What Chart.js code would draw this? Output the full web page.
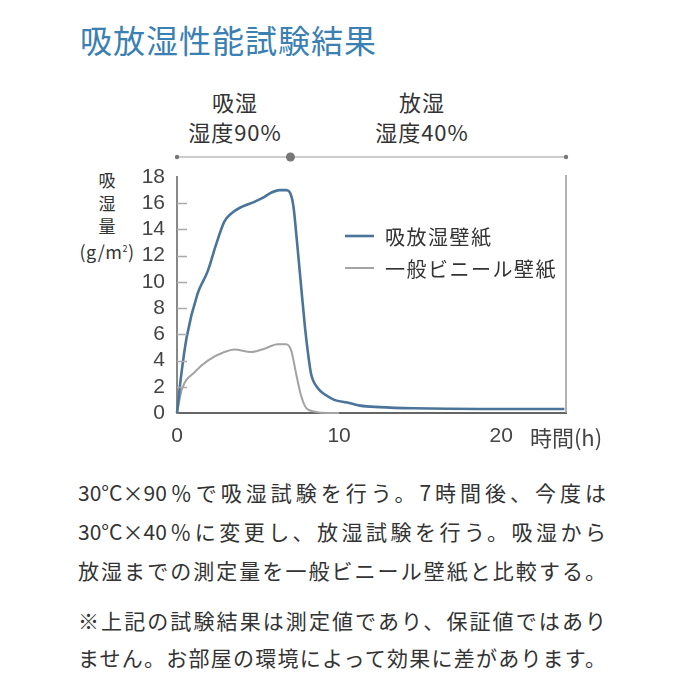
<!DOCTYPE html>
<html><head><meta charset="utf-8">
<script src="https://cdn.jsdelivr.net/npm/chart.js@4"></script>
<style>
html,body{margin:0;padding:0;background:#fff;}
body{width:700px;height:700px;position:relative;overflow:hidden;font-family:"Noto Sans CJK JP","Noto Sans",sans-serif;color:#333;}
.abs{position:absolute;white-space:nowrap;}
#title{left:80px;top:17px;font-size:32px;line-height:44px;color:#3a80b3;letter-spacing:1px;}
.hdr{font-size:22px;text-align:center;width:170px;line-height:30px;letter-spacing:1px;}
.j{position:absolute;left:78px;width:528px;text-align:justify;text-align-last:justify;font-size:21px;line-height:26px;white-space:nowrap;color:#333;}
#ytitle{left:76px;top:168px;width:62px;text-align:center;font-size:17px;line-height:23px;color:#333;}
#ytitle .u{font-size:18px;letter-spacing:0.5px;}
#chartwrap{position:absolute;left:0;top:140px;width:700px;height:320px;}
</style></head>
<body>
<div id="title" class="abs">吸放湿性能試験結果</div>
<div class="abs hdr" style="left:150px;top:86px;">吸湿<br>湿度90%</div>
<div class="abs hdr" style="left:337px;top:86px;">放湿<br>湿度40%</div>
<div id="ytitle" class="abs">吸<br>湿<br>量<br><span class="u">(g/m<span style="font-size:9px;vertical-align:7px">2</span>)</span></div>
<div id="chartwrap"><canvas id="c" width="700" height="320"></canvas></div>
<div class="j" style="top:479px;">30°C×90％で吸湿試験を行う。7時間後、今度は</div>
<div class="j" style="top:518px;">30°C×40％に変更し、放湿試験を行う。吸湿から</div>
<div class="j" style="top:557px;">放湿までの測定量を一般ビニール壁紙と比較する。</div>
<div class="j" style="top:607px;">※上記の試験結果は測定値であり、保証値ではあり</div>
<div class="j" style="top:644px;">ません。お部屋の環境によって効果に差があります。</div>
<script>
const seriesNames = ["吸放湿壁紙", "一般ビニール壁紙"];
const blueHours = [0, 0.25, 0.6, 1.27, 1.89, 2.4, 2.92, 3.33, 3.95, 4.77, 5.28, 5.8, 6.32, 6.73, 7.04, 7.2, 7.4, 7.65, 7.9, 8.1, 8.27, 8.68, 9.2, 9.7, 10.5, 11.3, 12.5, 14.6, 18.7, 23.9];
const blueValues = [0, 2.8, 5.8, 9.1, 10.8, 12.8, 14.6, 15.2, 15.7, 16.1, 16.4, 16.8, 17.0, 17.0, 16.6, 15.6, 13.1, 9.75, 6.5, 4.4, 3.0, 1.9, 1.35, 1.0, 0.8, 0.56, 0.45, 0.36, 0.3, 0.3];
const greyHours = [0, 0.3, 1.07, 1.9, 2.92, 3.54, 4.57, 5.39, 6.2, 6.73, 7.04, 7.35, 7.65, 7.96, 8.5, 9.3, 10];
const greyValues = [0, 1.8, 3.1, 4.0, 4.65, 4.85, 4.65, 4.9, 5.25, 5.25, 4.8, 3.0, 1.35, 0.4, 0.1, 0, 0];
const xTickValues = [0, 10, 20, 24];
const xTickLabels = ["0", "10", "20", "時間(h)"];
const yTickValues = [0, 2, 4, 6, 8, 10, 12, 14, 16, 18];
const phaseMarks = [0, 7, 24];

const toXY = (xs, ys) => xs.map((x, i) => ({x: x, y: ys[i]}));
const CJK = '"Noto Sans CJK JP","Noto Sans",sans-serif';
const NUM = '"Liberation Sans","Noto Sans CJK JP",sans-serif';

const extras = {
  id: 'extras',
  afterDraw(chart) {
    const ctx = chart.ctx, ca = chart.chartArea;
    const xs = chart.scales.x, ys = chart.scales.y;
    ctx.save();
    ctx.strokeStyle = '#aaa'; ctx.lineWidth = 1.5;
    yTickValues.forEach(v => {
      if (v === 0 || v === 18) return;
      const py = Math.round(ys.getPixelForValue(v)) + 0.5;
      ctx.beginPath(); ctx.moveTo(ca.left, py); ctx.lineTo(ca.left + 10, py); ctx.stroke();
    });
    ctx.strokeStyle = '#999'; ctx.lineWidth = 1.5;
    ctx.beginPath(); ctx.moveTo(ca.right, ca.top - 2); ctx.lineTo(ca.right, ca.bottom); ctx.stroke();
    const ly = 17;
    ctx.strokeStyle = '#999'; ctx.lineWidth = 1.2;
    const p0 = xs.getPixelForValue(phaseMarks[0]), p2 = xs.getPixelForValue(phaseMarks[2]);
    ctx.beginPath(); ctx.moveTo(p0, ly); ctx.lineTo(p2, ly); ctx.stroke();
    ctx.fillStyle = '#777';
    [[phaseMarks[0], 2.2], [phaseMarks[1], 4.5], [phaseMarks[2], 2.2]].forEach(([h, r]) => {
      ctx.beginPath(); ctx.arc(xs.getPixelForValue(h), ly, r, 0, Math.PI * 2); ctx.fill();
    });
    ctx.font = '20px ' + CJK; ctx.textBaseline = 'middle'; ctx.fillStyle = '#333';
    try { ctx.letterSpacing = '1.5px'; } catch (e) {}
    chart.data.datasets.forEach((ds, i) => {
      const y = 96 + i * 32;
      ctx.strokeStyle = ds.borderColor; ctx.lineWidth = ds.borderWidth;
      ctx.beginPath(); ctx.moveTo(345, y); ctx.lineTo(374, y); ctx.stroke();
      ctx.fillText(ds.label, 385, y + 1);
    });
    ctx.restore();
  }
};

new Chart(document.getElementById('c'), {
  type: 'line',
  data: {
    datasets: [
      {label: seriesNames[0], data: toXY(blueHours, blueValues), borderColor: '#4a7499', borderWidth: 2.6, pointRadius: 0, cubicInterpolationMode: 'monotone', fill: false},
      {label: seriesNames[1], data: toXY(greyHours, greyValues), borderColor: '#a3a3a3', borderWidth: 2, pointRadius: 0, cubicInterpolationMode: 'monotone', fill: false}
    ]
  },
  options: {
    responsive: false, animation: false,
    clip: false,
    layout: {padding: {left: 0, right: 134, top: 37, bottom: 0}},
    plugins: {legend: {display: false}, tooltip: {enabled: false}},
    scales: {
      x: {
        type: 'linear', min: 0, max: 24,
        afterBuildTicks: s => { s.ticks = xTickValues.map(v => ({value: v})); },
        afterFit: s => { s.height = 47; },
        grid: {display: false, drawTicks: false},
        border: {display: true, color: '#666', width: 2},
        ticks: {
          padding: 11, color: '#444', maxRotation: 0, autoSkip: false,
          font: (c) => (c.tick && c.tick.value === 24) ? {size: 22, family: CJK} : {size: 21, family: NUM},
          callback: (v) => { const i = xTickValues.indexOf(v); return i >= 0 ? xTickLabels[i] : ''; }
        }
      },
      y: {
        min: 0, max: 18,
        afterBuildTicks: s => { s.ticks = yTickValues.map(v => ({value: v})); },
        afterFit: s => { s.width = 177; },
        grid: {display: false, drawTicks: false},
        border: {display: true, color: '#888', width: 2},
        ticks: {padding: 12, color: '#444', autoSkip: false, font: {size: 21, family: NUM}}
      }
    }
  },
  plugins: [extras]
});
</script>
</body></html>
